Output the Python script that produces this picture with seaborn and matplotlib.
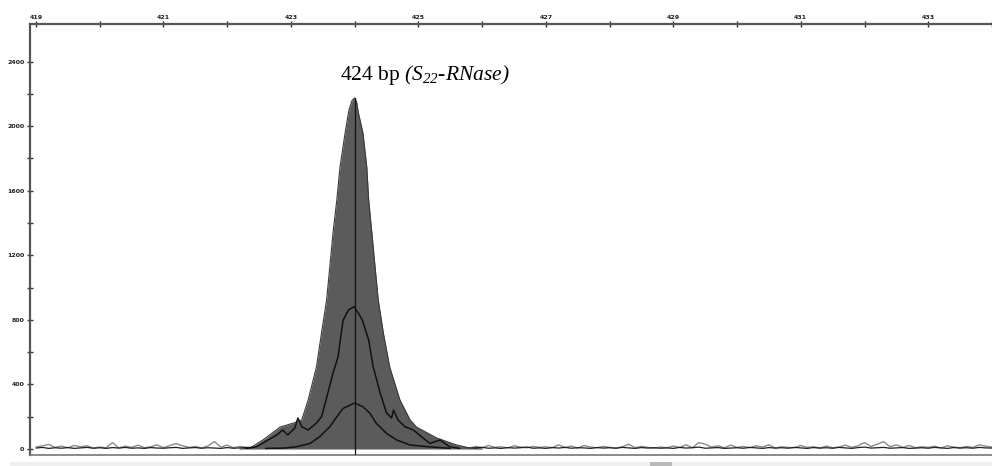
import numpy as np
import pandas as pd
import matplotlib
matplotlib.use("Agg")
import matplotlib.pyplot as plt
import seaborn as sns
from matplotlib.patches import Rectangle

sns.set_theme(style="white")
plt.rcParams['font.family'] = ['Liberation Serif', 'DejaVu Serif']
plt.rcParams['mathtext.fontset'] = 'custom'
plt.rcParams['mathtext.rm'] = 'Liberation Serif:italic'
plt.rcParams['mathtext.it'] = 'Liberation Serif:italic'

# ---- data ----
# main (filled) peak, size in bp vs fluorescence
peak_bp = [422.20, 422.36, 422.56, 422.83, 423.09, 423.17, 423.27, 423.40, 423.48, 423.56,
           423.61, 423.66, 423.72, 423.77, 423.85, 423.91, 423.96, 424.00, 424.03, 424.06,
           424.13, 424.19, 424.22, 424.27, 424.32, 424.37, 424.45, 424.55, 424.71, 424.87,
           424.97, 425.29, 425.60, 425.81, 426.00]
peak_rfu = [0, 6, 56, 136, 167, 180, 304, 508, 719, 923,
            1128, 1338, 1543, 1747, 1958, 2100, 2160, 2175, 2150, 2080,
            1958, 1747, 1543, 1338, 1128, 923, 719, 508, 304, 180,
            136, 68, 25, 6, 0]

# second sample trace
mid_bp = [422.30, 422.46, 422.64, 422.78, 422.87, 422.95, 423.06, 423.11, 423.17, 423.27,
          423.40, 423.48, 423.58, 423.66, 423.74, 423.79, 423.82, 423.90, 423.99, 424.06,
          424.12, 424.22, 424.29, 424.40, 424.50, 424.58, 424.61, 424.68, 424.79, 424.92,
          425.08, 425.18, 425.34, 425.49, 425.65]
mid_rfu = [4, 14, 56, 87, 118, 87, 130, 192, 138, 118,
           161, 200, 347, 470, 572, 719, 799, 860, 882, 840,
           799, 675, 510, 347, 223, 192, 242, 180, 138, 118,
           66, 35, 56, 14, 4]

# third sample trace
low_bp = [422.60, 422.90, 423.09, 423.30, 423.45, 423.61, 423.72, 423.82, 424.00, 424.13,
          424.24, 424.34, 424.50, 424.66, 424.87, 425.16, 425.50]
low_rfu = [4, 6, 14, 35, 76, 138, 200, 252, 285, 262,
           221, 159, 97, 56, 25, 14, 4]

# background noise traces, 419.0 .. 434.0 bp every 0.1 bp
noise_bp = np.round(np.linspace(419.0, 434.0, 151), 1)
noise_gray = [12, 20, 28, 10, 18, 8, 22, 14, 20, 6,
              12, 8, 40, 6, 18, 10, 24, 8, 14, 26,
              8, 22, 34, 20, 10, 16, 6, 20, 46, 12,
              24, 8, 16, 10, 12, 6, 14, 8, 10, 6,
              12, 8, 10, 6, 12, 8, 10, 6, 8, 10,
              8, 10, 6, 12, 8, 10, 6, 12, 8, 10,
              6, 12, 8, 10, 14, 8, 18, 10, 6, 16,
              8, 22, 10, 14, 6, 20, 12, 8, 16, 10,
              14, 8, 26, 10, 18, 6, 22, 12, 8, 16,
              10, 6, 14, 30, 8, 16, 10, 6, 12, 8,
              18, 10, 26, 8, 40, 30, 12, 20, 8, 24,
              10, 16, 8, 20, 12, 26, 6, 14, 10, 8,
              22, 10, 14, 6, 18, 8, 12, 24, 10, 20,
              40, 16, 30, 46, 14, 26, 10, 22, 8, 14,
              10, 18, 6, 20, 12, 8, 16, 10, 26, 18,
              12]
noise_black = [6, 10, 4, 8, 5, 9, 4, 7, 10, 5,
               8, 4, 9, 6, 10, 5, 7, 4, 9, 6,
               5, 8, 10, 4, 7, 9, 5, 8, 6, 4,
               9, 5, 7, 10, 4, 8, 6, 5, 9, 7,
               4, 8, 6, 10, 5, 7, 9, 4, 6, 8,
               5, 9, 7, 4, 10, 6, 8, 5, 7, 9,
               4, 6, 10, 8, 5, 7, 4, 9, 6, 8,
               10, 5, 7, 4, 9, 6, 8, 12, 5, 7,
               4, 9, 6, 10, 5, 8, 7, 4, 9, 6,
               8, 5, 10, 7, 4, 9, 6, 8, 5, 7,
               4, 10, 6, 8, 12, 5, 7, 9, 4, 6,
               8, 5, 10, 7, 4, 9, 6, 8, 5, 10,
               7, 4, 9, 6, 8, 5, 10, 7, 4, 9,
               12, 6, 8, 10, 5, 7, 9, 4, 6, 8,
               5, 10, 7, 4, 9, 6, 8, 5, 10, 7,
               6]

x_major = [419, 421, 423, 425, 427, 429, 431, 433]
x_minor = [420, 422, 424, 426, 428, 430, 432, 434]
y_major = [0, 400, 800, 1200, 1600, 2000, 2400]
y_minor = [200, 600, 1000, 1400, 1800, 2200]
peak_label_bp = 424.0
label_text = r"424 bp $(S_{22}$-$RNase)$"

# ---- figure ----
W, H = 992, 466
fig = plt.figure(figsize=(W / 100, H / 100), dpi=100)
ax = fig.add_axes([30 / W, (466 - 455) / H, (992 - 30) / W, (455 - 24) / H])

ax.set_xlim(418.906, 434.0)
ax.set_ylim(-37, 2633)

noise_df = pd.DataFrame({"bp": noise_bp, "gray": noise_gray, "black": noise_black})
sns.lineplot(data=noise_df, x="bp", y="gray", ax=ax, color="#8a8a8a", lw=1.0, zorder=1)
sns.lineplot(data=noise_df, x="bp", y="black", ax=ax, color="#202020", lw=0.9, zorder=1)

ax.fill_between(peak_bp, peak_rfu, 0, color="#5b5b5b", lw=0, zorder=2)
sns.lineplot(x=peak_bp, y=peak_rfu, ax=ax, color="#3a3a3a", lw=0.8, zorder=3)
sns.lineplot(x=mid_bp, y=mid_rfu, ax=ax, color="#111111", lw=1.1, zorder=4)
sns.lineplot(x=low_bp, y=low_rfu, ax=ax, color="#111111", lw=1.1, zorder=4)

ax.plot([peak_label_bp, peak_label_bp], [-37, max(peak_rfu)], color="#111111", lw=0.9, zorder=5)

ax.text(425.10, 2286, label_text, ha="center", va="baseline", fontsize=15.5, color="black")

# axes styling
ax.xaxis.tick_top()
ax.set_xticks(x_major)
ax.set_xticks(x_minor, minor=True)
ax.set_xticklabels([str(v) for v in x_major])
ax.set_yticks(y_major)
ax.set_yticks(y_minor, minor=True)
ax.set_yticklabels([str(v) for v in y_major])
ax.tick_params(axis="x", which="both", top=True, bottom=False, direction="inout",
               length=4, width=1.0, color="#333333", labelsize=4.5, pad=1,
               labelcolor="#222222")
ax.tick_params(axis="y", which="both", left=True, direction="inout",
               length=4, width=1.0, color="#333333", labelsize=4.5, pad=2,
               labelcolor="#222222")
for lab in ax.get_xticklabels() + ax.get_yticklabels():
    lab.set_fontweight("bold")
    lab.set_family("DejaVu Sans")
ax.set_xlabel("")
ax.set_ylabel("")
ax.grid(False)

for side in ["left", "top", "bottom"]:
    ax.spines[side].set_visible(True)
    ax.spines[side].set_color("#555555")
    ax.spines[side].set_linewidth(1.6)
ax.spines["bottom"].set_color("#777777")
ax.spines["bottom"].set_linewidth(1.2)
ax.spines["right"].set_visible(False)

# scroll bar strip at the bottom of the screenshot
fig.patches.append(Rectangle((10 / W, 0), 1 - 10 / W, 4 / H, transform=fig.transFigure,
                             facecolor="#efefef", edgecolor="none", zorder=0))
fig.patches.append(Rectangle((650 / W, 0), 22 / W, 4 / H, transform=fig.transFigure,
                             facecolor="#b9b9b9", edgecolor="none", zorder=1))

fig.savefig("out.png", dpi=100)
